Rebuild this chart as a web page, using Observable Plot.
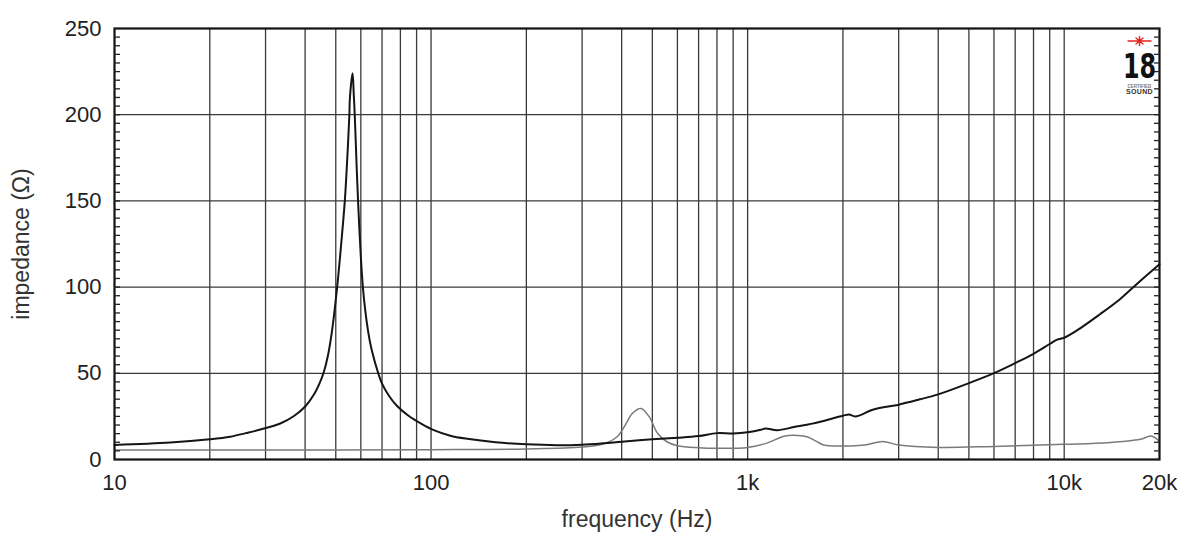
<!DOCTYPE html>
<html>
<head>
<meta charset="utf-8">
<script src="https://cdn.jsdelivr.net/npm/d3@7"></script>
<script src="https://cdn.jsdelivr.net/npm/@observablehq/plot@0.6"></script>
<style>
  html, body { margin: 0; padding: 0; background: #fff; }
  #wrap { position: relative; width: 1200px; height: 534px; }
  #logo { position: absolute; left: 0; top: 0; pointer-events: none; }
</style>
</head>
<body>
<div id="wrap"><div id="chart"></div>
<svg id="logo" width="1200" height="534" xmlns="http://www.w3.org/2000/svg">
  <g stroke="#e3261f" stroke-width="1.4" stroke-linecap="round">
    <line x1="1128" y1="41" x2="1151" y2="41"/>
    <line x1="1139.5" y1="36.5" x2="1139.5" y2="45.5"/>
    <line x1="1136" y1="38" x2="1143" y2="44"/>
    <line x1="1136" y1="44" x2="1143" y2="38"/>
  </g>
  <circle cx="1139.5" cy="41" r="2.2" fill="#e3261f"/>
  <text x="1139.5" y="78" text-anchor="middle" font-family="'Liberation Sans Narrow', 'DejaVu Sans Condensed', 'Liberation Sans', sans-serif" font-weight="bold" font-size="34" fill="#111" transform="translate(1139.5 0) scale(0.78 1) translate(-1139.5 0)">18</text>
  <text x="1139.5" y="87.5" text-anchor="middle" font-family="'Liberation Sans', sans-serif" font-weight="bold" font-size="4.5" fill="#777">CERTIFIED</text>
  <text x="1139.5" y="94" text-anchor="middle" font-family="'Liberation Sans', sans-serif" font-weight="bold" font-size="7" fill="#333" letter-spacing="0.3">SOUND</text>
</svg>
</div>
<script>
// impedance magnitude (black curve): frequency (Hz), impedance (ohm)
const blackFreq = [10, 15, 20, 23.2, 26, 28.9, 33.4, 36.8, 40.1, 42.6, 44.5, 45.8, 47.2, 48.6, 50.5, 52.0, 53.4, 54.3, 55.2, 55.4, 56.5, 57.0, 57.4, 58.8, 60.9, 63.2, 65, 68.1, 70, 73.6, 78.1, 85.1, 93.6, 102, 115, 130, 160, 200, 250, 300, 350, 400, 500, 600, 700, 800, 900, 1000, 1100, 1140, 1240, 1400, 1600, 2000, 2090, 2190, 2500, 3000, 3500, 4000, 5000, 6000, 7000, 8000, 9000, 9500, 10000, 11000, 13000, 15000, 16500, 18000, 20000];
const blackOhm  = [8.4, 9.8, 11.7, 13.2, 15.3, 17.4, 20.9, 25.1, 30.9, 37.5, 44.5, 50.5, 60, 74, 100, 124.8, 150, 172.9, 200, 209.5, 224, 211.4, 200, 150, 100, 74.8, 63.2, 50, 44, 37, 31, 25.2, 20.5, 17, 13.8, 12, 10, 8.8, 8.3, 8.6, 9.4, 10.3, 11.7, 12.6, 13.6, 15.3, 15.1, 15.8, 17.2, 18.0, 17.0, 18.8, 20.8, 25.4, 26.1, 25.0, 29, 31.8, 34.9, 37.8, 44.3, 50.1, 55.9, 61.3, 67, 69.5, 70.6, 75, 84.4, 93, 99.8, 106, 113.3];

// second curve (grey)
const greyFreq = [10, 30, 100, 200, 300, 350, 387, 416, 432, 460, 489, 520, 556, 600, 700, 800, 1000, 1150, 1300, 1400, 1540, 1650, 1740, 2000, 2380, 2670, 3000, 4000, 6000, 10000, 13700, 17400, 18800, 20000];
const greyOhm  = [5.5, 5.5, 5.7, 6.1, 7.2, 9, 13.2, 21.8, 26.7, 29.6, 24.7, 15.1, 10.3, 8, 6.8, 6.5, 7.0, 9.5, 13.5, 14.1, 13.2, 10.5, 8.4, 7.8, 8.6, 10.5, 8.4, 7.0, 7.6, 8.8, 9.7, 11.7, 13.6, 10.5];

const xTicks = [10, 100, 1000, 10000, 20000];
const xTickLabels = ["10", "100", "1k", "10k", "20k"];
const yTicks = [0, 50, 100, 150, 200, 250];
const yGrid = [50, 100, 150, 200];
const yMinor = d3.range(0, 251, 5);
const xGrid = [20, 30, 40, 50, 60, 70, 80, 90, 100, 200, 300, 400, 500, 600, 700, 800, 900, 1000, 2000, 3000, 4000, 5000, 6000, 7000, 8000, 9000, 10000];
const xTitle = "frequency (Hz)";
const yTitle = "impedance (Ω)";

const black = blackFreq.map((f, i) => ({f, z: blackOhm[i]}));
const grey = greyFreq.map((f, i) => ({f, z: greyOhm[i]}));

const chart = Plot.plot({
  width: 1200,
  height: 534,
  marginLeft: 114,
  marginRight: 41,
  marginTop: 28,
  marginBottom: 75,
  style: { fontFamily: "'Liberation Sans', Arial, Helvetica, sans-serif", color: "#222", background: "#fff" },
  x: { type: "log", domain: [10, 20000] },
  y: { domain: [0, 250] },
  marks: [
    Plot.ruleX(xGrid, { stroke: "#3a3a3a", strokeWidth: 1.3 }),
    Plot.ruleY(yGrid, { stroke: "#3a3a3a", strokeWidth: 1.3 }),
    Plot.line(grey, { x: "f", y: "z", stroke: "#7a7a7a", strokeWidth: 1.5, curve: "catmull-rom" }),
    Plot.line(black, { x: "f", y: "z", stroke: "#151515", strokeWidth: 2, curve: "catmull-rom" }),
    Plot.frame({ stroke: "#111", strokeWidth: 2.2 }),
    Plot.axisY(yMinor, { anchor: "left", tickSize: 6, dx: 6, text: null, label: null, stroke: "#222", strokeWidth: 1.3 }),
    Plot.axisY(yMinor, { anchor: "right", tickSize: 6, dx: -6, text: null, label: null, stroke: "#222", strokeWidth: 1.3 }),
    Plot.axisY(yTicks, { anchor: "left", tickSize: 0, tickPadding: 13, fontSize: 22, label: null, fill: "#222" }),
    Plot.axisX(xTicks, { anchor: "bottom", tickSize: 0, tickPadding: 15, fontSize: 22, label: null, fill: "#222",
      tickFormat: d => xTickLabels[xTicks.indexOf(d)] }),
    Plot.text([xTitle], { frameAnchor: "bottom", dy: 60, lineAnchor: "middle", textAnchor: "middle", fontSize: 23, fill: "#333" }),
    Plot.text([yTitle], { frameAnchor: "left", dx: -93, rotate: -90, lineAnchor: "middle", textAnchor: "middle", fontSize: 23, fill: "#333" })
  ]
});
document.getElementById("chart").appendChild(chart);
</script>
</body>
</html>
